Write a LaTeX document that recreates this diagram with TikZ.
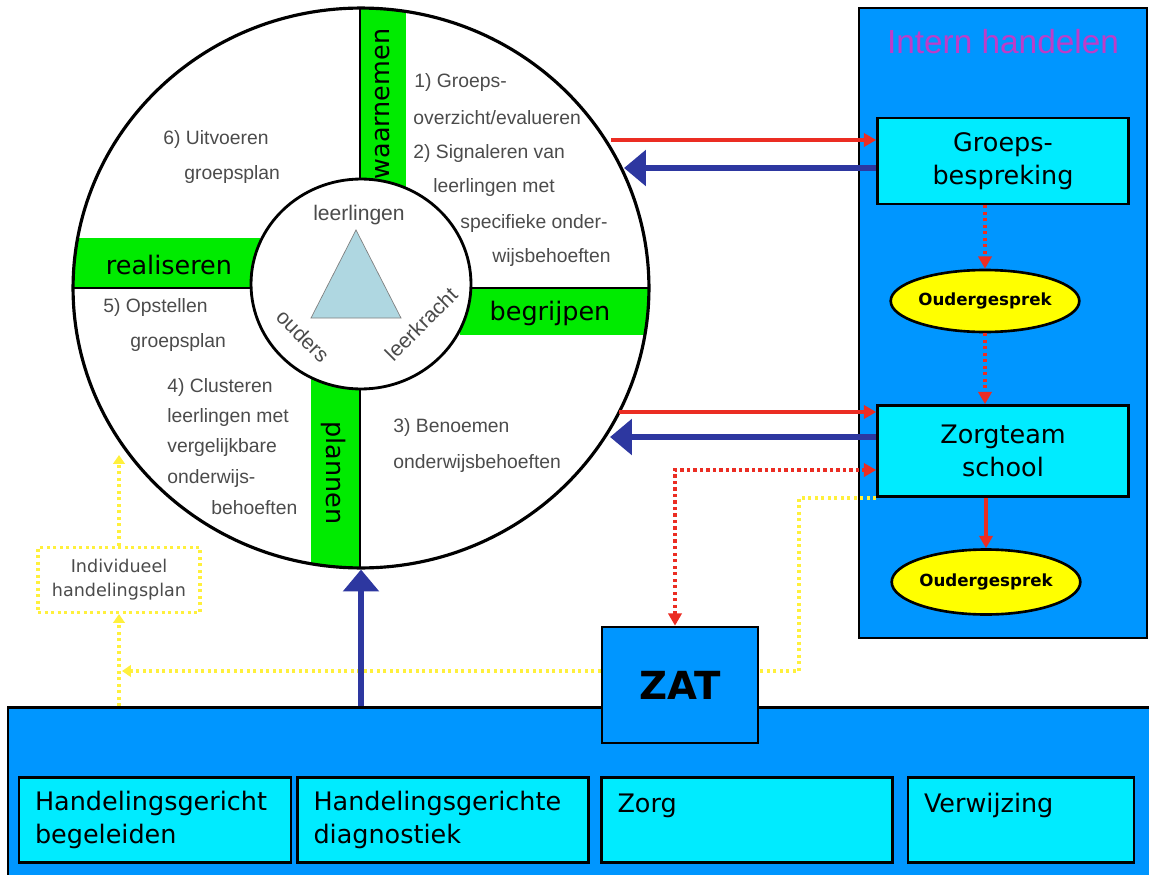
\documentclass[tikz,border=0pt]{standalone}
\usepackage{fontspec}
\setmainfont{Liberation Sans}
\newfontfamily\comicfont{DejaVu Sans}
\usetikzlibrary{shapes.geometric, arrows.meta}

\definecolor{panelblue}{RGB}{0,150,255}
\definecolor{boxcyan}{RGB}{0,235,255}
\definecolor{bargreen}{RGB}{0,235,0}
\definecolor{arrowblue}{RGB}{45,55,160}
\definecolor{arrowred}{RGB}{235,45,35}
\definecolor{dotyellow}{RGB}{255,240,60}
\definecolor{talkyellow}{RGB}{255,255,0}
\definecolor{txtgray}{RGB}{75,75,75}
\definecolor{trifill}{RGB}{175,215,225}
\definecolor{titlepink}{RGB}{190,60,200}

\begin{document}
\begin{tikzpicture}[x=0.02cm, y=-0.02cm,
    wheeltext/.style={font=\fontsize{11}{13}\selectfont, text=txtgray, anchor=west, inner sep=0pt},
    hubtext/.style={font=\fontsize{12}{14}\selectfont, text=txtgray, inner sep=0pt},
    barlabel/.style={font=\comicfont\fontsize{14.5}{16}\selectfont, inner sep=0pt},
    panelbox/.style={draw, line width=1.5pt, fill=panelblue, inner sep=0pt},
    cyanbox/.style={draw, line width=1.5pt, fill=boxcyan, align=center, inner sep=0pt, font=\comicfont\fontsize{14.5}{19}\selectfont},
    optionbox/.style={draw, line width=1.5pt, fill=boxcyan, align=left, inner xsep=0.32cm, minimum height=1.7cm, font=\comicfont\fontsize{14.5}{19}\selectfont},
    talkbox/.style={ellipse, draw, line width=1.5pt, fill=talkyellow, inner sep=0pt, minimum width=3.4cm, font=\comicfont\bfseries\fontsize{9.5}{11}\selectfont},
    redarrow/.style={-{Triangle[length=7pt,width=7.5pt]}, line width=2pt, arrowred},
    reddots/.style={redarrow, line width=2.3pt, dash pattern=on 1.8pt off 1.9pt},
    bluearrow/.style={-{Triangle[length=12.5pt,width=20pt]}, line width=3.4pt, arrowblue},
    yellowdots/.style={-{Triangle[length=5pt,width=6.5pt]}, line width=2pt, dotyellow, dash pattern=on 1.8pt off 1.9pt}
]
\useasboundingbox (0,0) rectangle (1149,875);

% === WHEEL ===
\begin{scope}
  \clip (361,288) ellipse [x radius=5.76cm, y radius=5.6cm];
  \fill[bargreen] (360,0) rectangle (406,200);
  \fill[bargreen] (311,370) rectangle (360,600);
  \fill[bargreen] (50,238) rectangle (260,288);
  \fill[bargreen] (460,288) rectangle (680,335);
  \draw[line width=1.6pt] (360,0) -- (360,600);
  \draw[line width=1.6pt] (50,288) -- (680,288);
\end{scope}
\node[draw, ellipse, fill=white, line width=1.6pt, minimum width=4.4cm, minimum height=4.2cm, inner sep=0pt] (hub) at (361,284) {};
\node[draw, ellipse, line width=1.8pt, minimum width=11.52cm, minimum height=11.2cm, inner sep=0pt] (wheel) at (361,288) {};

\node[barlabel, rotate=90] (waar) at (383,104) {waarnemen};
\node[barlabel, rotate=-90] (plan) at (334,473) {plannen};
\node[barlabel] (real) at (169,265) {realiseren};
\node[barlabel] (begr) at (550,313) {begrijpen};

% triangle in the hub
\draw[gray, fill=trifill] (356,230) -- (401,318) -- (311,318) -- cycle;
\node[hubtext] (ll) at (359,215) {leerlingen};
\node[hubtext, rotate=-45] (ou) at (303,336) {ouders};
\node[hubtext, rotate=45] (lk) at (421,324) {leerkracht};

% steps
\foreach \x/\y/\t [count=\i] in {414/83/{1) Groeps-}, 413/118/{overzicht/evalueren}, 413/154/{2) Signaleren van},
    433/188/{leerlingen met}, 460/224/{specifieke onder-}, 492/258/{wijsbehoeften},
    163/139/{6) Uitvoeren}, 184/175/{groepsplan}, 103/308/{5) Opstellen}, 130/343/{groepsplan},
    167/387/{4) Clusteren}, 167/417/{leerlingen met}, 167/447/{vergelijkbare}, 167/478/{onderwijs-},
    211/508/{behoeften}, 393/427/{3) Benoemen}, 393/463/{onderwijsbehoeften}}
    \node[wheeltext] (step\i) at (\x,\y) {\t};

% === INTERN HANDELEN ===
\node[panelbox, minimum width=5.76cm, minimum height=12.6cm] (intern) at (1003,323) {};
\node[font=\fontsize{19}{21}\selectfont, text=titlepink] (ititle) at (1003,42) {Intern handelen};
\node[cyanbox, minimum width=5.02cm, minimum height=1.72cm] (grp) at (1003,161) {Groeps-\\bespreking};
\node[talkbox, minimum height=1.24cm] (og1) at (985,301) {Oudergesprek};
\node[cyanbox, minimum width=5.02cm, minimum height=1.82cm] (zts) at (1003,451) {Zorgteam\\school};
\node[talkbox, minimum height=1.3cm] (og2) at (986,582) {Oudergesprek};

\draw[reddots] (grp.south -| og1.north) -- (og1.north);
\draw[reddots] (og1.south) -- (og1.south |- zts.north);
\draw[redarrow] (zts.south -| og2.north) -- (og2.north);

% === BOTTOM ===
\node[panelbox, minimum width=23.04cm, minimum height=3.46cm] (base) at (584,794) {};
\node[optionbox, text width=4.8cm] (opt1) at (155,820) {Handelingsgericht\\begeleiden};
\node[optionbox, text width=5.18cm] (opt2) at (443,820) {Handelingsgerichte\\diagnostiek};
\node[optionbox, text width=5.18cm] (opt3) at (747,820) {Zorg\\\mbox{}};
\node[optionbox, text width=3.88cm] (opt4) at (1021,820) {Verwijzing\\\mbox{}};

\node[draw=dotyellow, line width=1.8pt, dash pattern=on 1.8pt off 1.9pt, fill=white, minimum width=3.24cm, minimum height=1.3cm, align=center, text=txtgray, font=\comicfont\fontsize{10}{13.5}\selectfont] (ihp) at (119,580) {Individueel\\handelingsplan};

% === CONNECTORS ===
\coordinate (ycorner) at (799,671);
\coordinate (ytip) at (122,671);
\coordinate (ytop) at (119,455);
\draw[yellowdots] (zts.south west) -| (ycorner) -- (ytip);
\draw[yellowdots] (base.north -| ihp.south) -- (ihp.south);
\draw[yellowdots] (ihp.north) -- (ytop);

\draw[bluearrow] (base.north -| wheel.south) -- (wheel.south);

\node[panelbox, minimum width=3.12cm, minimum height=2.32cm, font=\comicfont\bfseries\fontsize{22}{24}\selectfont] (zat) at (680,685) {ZAT};

\coordinate (w1) at (611,140);
\coordinate (w2) at (624,168);
\coordinate (w3) at (619,412);
\coordinate (w4) at (610,437);
\coordinate (zbend) at (675,470);
\draw[redarrow] (w1) -- (w1 -| grp.west);
\draw[bluearrow] (w2 -| grp.west) -- (w2);
\draw[redarrow] (w3) -- (w3 -| zts.west);
\draw[bluearrow] (w4 -| zts.west) -- (w4);
\draw[reddots, {Triangle[length=7pt,width=7.5pt]}-{Triangle[length=7pt,width=7.5pt]}] (zbend |- zat.north) -- (zbend) -- (zbend -| zts.west);

\end{tikzpicture}
\end{document}
